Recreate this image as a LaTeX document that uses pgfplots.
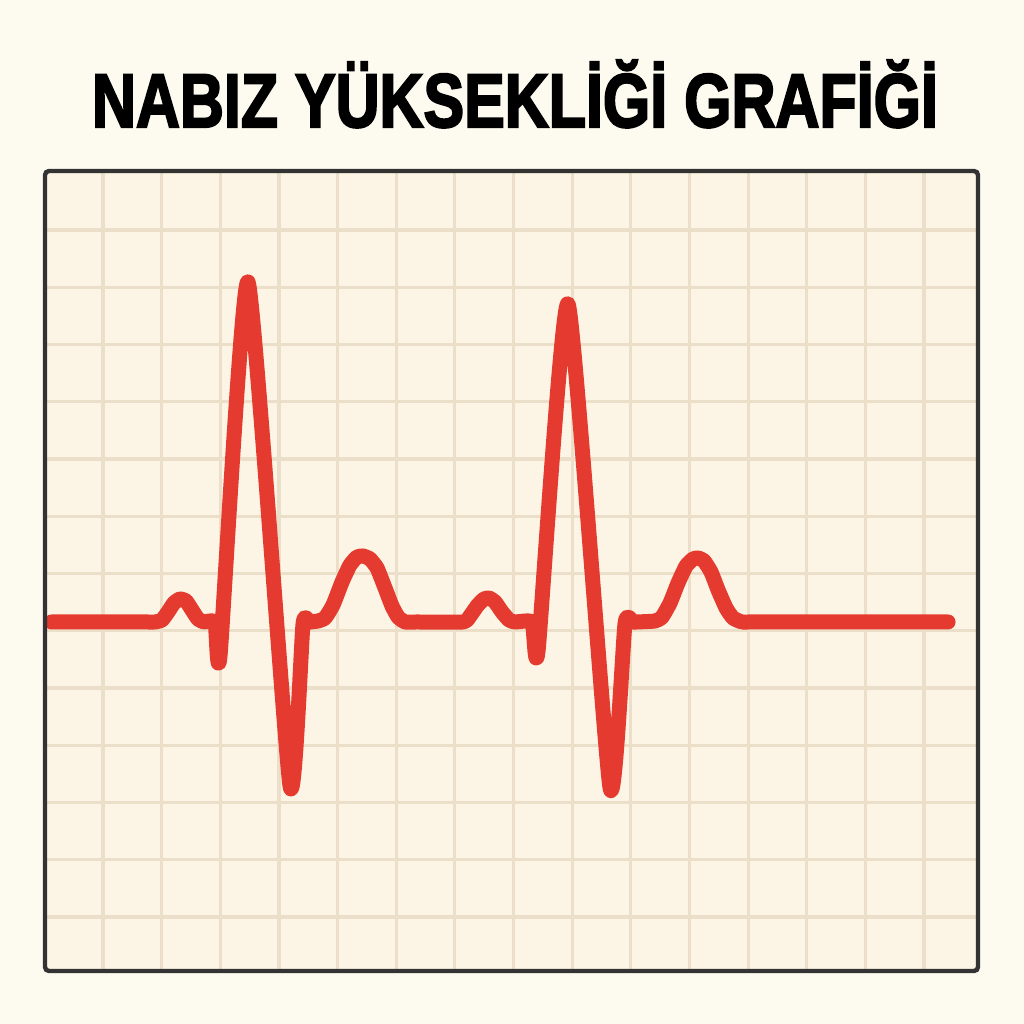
\documentclass[border=0pt]{standalone}
\usepackage{pgfplots}
\pgfplotsset{compat=1.18}
\usepackage{fontspec}
\setmainfont{Liberation Sans}
\newfontfamily\titlefont[FakeBold=3]{Liberation Sans Bold}
\definecolor{pagebg}{HTML}{FDFAF0}
\definecolor{paper}{HTML}{FCF5E5}
\definecolor{gridc}{HTML}{EBDFC9}
\definecolor{ecg}{HTML}{E53A2F}
\definecolor{frame}{HTML}{333333}

\begin{document}
\begin{tikzpicture}
  % page background (1px = 0.5pt, 1024px = 512pt)
  \fill[pagebg] (0,0) rectangle (512pt,512pt);
  \node[anchor=base, inner sep=0pt] at (257.5pt,448.5pt)
    {\resizebox{423pt}{\height}{\fontsize{38}{40}\titlefont NABIZ Y\"UKSEKL\.I\u{G}\.I GRAF\.I\u{G}\.I}};
  \begin{axis}[
      at={(22.5pt,26.5pt)}, anchor=south west,
      scale only axis, width=466.5pt, height=400pt,
      xmin=-0.989, xmax=14.92,
      ymin=-0.943, ymax=13.03,
      xtick={0,...,14}, ytick={0,...,12},
      xticklabels={}, yticklabels={},
      major tick length=0pt,
      grid=major,
      major grid style={draw=gridc, line width=1.6pt},
      axis background/.style={fill=paper},
      axis line style={draw=none},
      clip=false,
    ]
    % ECG trace, grid squares as units
    \addplot[ecg, line width=7.5pt, line cap=round, line join=round,
             smooth, tension=0.3] coordinates {
      (-0.88,5.153) (0.70,5.153) (0.887,5.153)
      (1.006,5.188) (1.108,5.328) (1.211,5.485) (1.313,5.555) (1.415,5.520)
      (1.518,5.362) (1.620,5.205) (1.722,5.153) (1.910,5.153)
      (1.995,4.559) (2.473,11.092) (3.189,2.288) (3.411,5.120) (3.52,5.150)
      (3.666,5.170)
      (3.786,5.223) (3.922,5.450) (4.076,5.852) (4.212,6.148) (4.332,6.288)
      (4.434,6.306) (4.553,6.253) (4.673,6.096) (4.809,5.747) (4.928,5.432)
      (5.031,5.240) (5.150,5.153) (5.35,5.153) (6.139,5.153)
      (6.259,5.258) (6.378,5.432) (6.497,5.555) (6.583,5.572) (6.685,5.502)
      (6.804,5.328) (6.924,5.188) (7.026,5.153) (7.316,5.153)
      (7.418,4.646) (7.930,10.707) (8.646,2.253) (8.902,5.130) (9.05,5.150)
      (9.413,5.170)
      (9.533,5.240) (9.669,5.485) (9.805,5.834) (9.942,6.131) (10.061,6.253)
      (10.147,6.271) (10.249,6.218) (10.368,6.026) (10.488,5.712) (10.624,5.397)
      (10.743,5.223) (10.897,5.153) (11.10,5.153) (14.410,5.153)
    };
    \draw[frame, line width=2.2pt, rounded corners=2pt]
      (rel axis cs:0,0) rectangle (rel axis cs:1,1);
  \end{axis}
\end{tikzpicture}
\end{document}
